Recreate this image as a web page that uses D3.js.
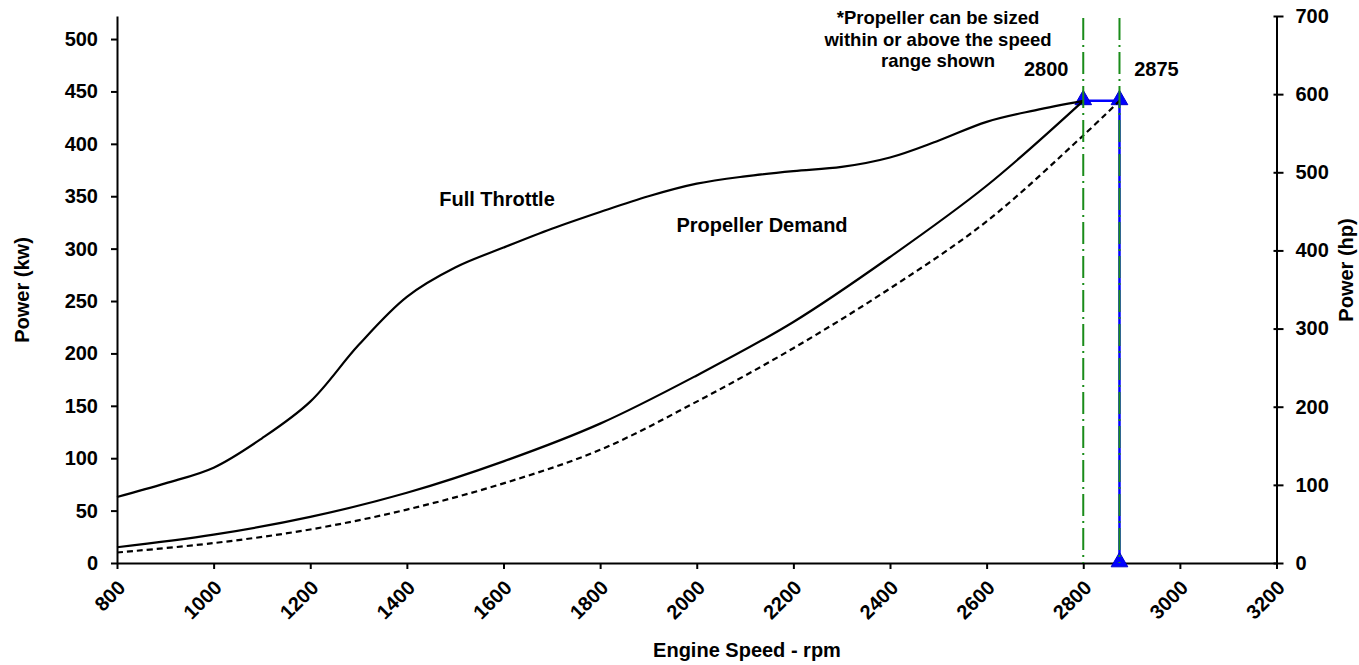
<!doctype html>
<html>

<head>
    <style>
        body { margin: 0; background: #fff; }
        text { font-family: "Liberation Sans", Arial, sans-serif; font-weight: bold; fill: #000; }
        .axis path, .axis line { stroke: #000; stroke-width: 2px; }
        .axis text { font-size: 20px; font-family: "Liberation Sans", Arial, sans-serif; font-weight: bold; }
    </style>
    <script src="https://d3js.org/d3.v7.min.js"></script>
</head>

<body>
    <svg width="1359" height="665"></svg>
    <script>
        // engine speed ticks and power ticks
        var rpmTicks = [800, 1000, 1200, 1400, 1600, 1800, 2000, 2200, 2400, 2600, 2800, 3000, 3200]
        var kwTicks = [0, 50, 100, 150, 200, 250, 300, 350, 400, 450, 500]
        var hpTicks = [0, 100, 200, 300, 400, 500, 600, 700]

        // full throttle curve (kW)
        var throttleRpm = [800, 900, 1000, 1100, 1200, 1300, 1400, 1500, 1600, 1700, 1800, 1900, 2000, 2100, 2200, 2300, 2400, 2500, 2600, 2700, 2800]
        var throttleKw = [63, 76, 91, 119, 154, 208, 254, 282, 301, 319, 335, 350, 362, 369, 374, 378, 387, 403, 421, 432, 441]

        // propeller demand curve (kW)
        var propRpm = [800, 1000, 1200, 1400, 1600, 1800, 2000, 2200, 2400, 2600, 2800]
        var propKw = [15, 27, 44, 67, 97, 133, 179, 230, 292, 360, 441]

        // dashed propeller curve (kW)
        var propHighRpm = [800, 1000, 1200, 1400, 1600, 1800, 2000, 2200, 2400, 2600, 2800, 2875]
        var propHighKw = [10, 19, 32, 51, 76, 108, 154, 205, 262, 326, 408, 441]

        // rated speed range
        var ratedRpm = [2800, 2875]
        var ratedKw = 441
        var markerRpm = [2800, 2875, 2875]
        var markerKw = [441, 441, 0]

        var svg = d3.select("svg"),
            margin = { top: 16, right: 82.5, bottom: 102, left: 117 },
            width = +svg.attr("width") - margin.left - margin.right,
            height = +svg.attr("height") - margin.top - margin.bottom

        var x = d3.scaleLinear().domain([800, 3200]).range([0, width]),
            yHp = d3.scaleLinear().domain([0, 700]).range([height, 0]),
            y = d3.scaleLinear().domain([0, 700 * 0.7457]).range([height, 0]);

        var g = svg.append("g")
            .attr("transform", "translate(" + margin.left + "," + margin.top + ")");

        // x axis
        var xAxis = g.append("g")
            .attr("class", "axis")
            .attr("transform", "translate(0," + height + ")")
            .call(d3.axisBottom(x).tickValues(rpmTicks).tickSize(6).tickSizeOuter(0).tickFormat(d3.format("d")));
        xAxis.selectAll("text")
            .attr("text-anchor", "end")
            .attr("dy", null)
            .attr("y", null)
            .attr("transform", "translate(9,26) rotate(-45)");

        // left axis (kW)
        var yAxis = g.append("g")
            .attr("class", "axis")
            .call(d3.axisLeft(y).tickValues(kwTicks).tickSize(6).tickSizeOuter(0).tickPadding(13));

        // right axis (hp)
        var hpAxis = g.append("g")
            .attr("class", "axis")
            .attr("transform", "translate(" + width + ",0)")
            .call(d3.axisRight(yHp).tickValues(hpTicks).tickSize(7).tickSizeOuter(0).tickPadding(12));
        hpAxis.selectAll(".tick line").attr("x1", -3);

        var line = d3.line()
            .x(function (d) { return x(d[0]); })
            .y(function (d) { return y(d[1]); })
            .curve(d3.curveCatmullRom.alpha(0.5));

        // blue rated range lines
        g.append("path")
            .attr("d", d3.line()([[x(ratedRpm[0]), y(ratedKw)], [x(ratedRpm[1]), y(ratedKw)], [x(ratedRpm[1]), y(0)]]))
            .attr("fill", "none")
            .attr("stroke", "#0000ff")
            .attr("stroke-width", 2.5);

        // markers
        g.selectAll(".marker")
            .data(markerRpm)
            .enter().append("path")
            .attr("class", "marker")
            .attr("transform", function (d, i) { return "translate(" + x(d) + "," + (y(markerKw[i]) - 1) + ")"; })
            .attr("d", d3.symbol().type(d3.symbolTriangle).size(120))
            .attr("fill", "#0000ff")
            .attr("stroke", "#0000cc")
            .attr("stroke-width", 1);

        g.append("path")
            .datum(d3.zip(throttleRpm, throttleKw))
            .attr("d", line)
            .attr("fill", "none")
            .attr("stroke", "#000")
            .attr("stroke-width", 2.2);

        g.append("path")
            .datum(d3.zip(propRpm, propKw))
            .attr("d", line)
            .attr("fill", "none")
            .attr("stroke", "#000")
            .attr("stroke-width", 2.2);

        g.append("path")
            .datum(d3.zip(propHighRpm, propHighKw))
            .attr("d", line)
            .attr("fill", "none")
            .attr("stroke", "#000")
            .attr("stroke-width", 2.2)
            .attr("stroke-dasharray", "6,4");

        // green dash-dot speed lines
        g.selectAll(".speed")
            .data(ratedRpm)
            .enter().append("line")
            .attr("class", "speed")
            .attr("x1", function (d) { return x(d); })
            .attr("x2", function (d) { return x(d); })
            .attr("y1", 2)
            .attr("y2", height)
            .attr("stroke", "#1a8c1a")
            .attr("stroke-width", 2)
            .attr("stroke-dasharray", "22,5,2,5");

        // annotations
        g.append("text")
            .attr("x", 497 - margin.left)
            .attr("y", 206 - margin.top)
            .attr("text-anchor", "middle")
            .style("font-size", "20px")
            .text("Full Throttle");

        g.append("text")
            .attr("x", 762 - margin.left)
            .attr("y", 232 - margin.top)
            .attr("text-anchor", "middle")
            .style("font-size", "20px")
            .text("Propeller Demand");

        var note = ["*Propeller can be sized", "within or above the speed", "range shown"];
        g.selectAll(".note")
            .data(note)
            .enter().append("text")
            .attr("class", "note")
            .attr("x", 938 - margin.left)
            .attr("y", function (d, i) { return 24 - margin.top + i * 21.5; })
            .attr("text-anchor", "middle")
            .style("font-size", "18.5px")
            .text(function (d) { return d; });

        g.selectAll(".rated")
            .data(ratedRpm)
            .enter().append("text")
            .attr("class", "rated")
            .attr("x", function (d, i) { return i === 0 ? x(d) - 37 : x(d) + 37; })
            .attr("y", 76 - margin.top)
            .attr("text-anchor", "middle")
            .style("font-size", "20px")
            .text(function (d) { return d; });

        // axis titles
        svg.append("text")
            .attr("transform", "translate(29,290) rotate(-90)")
            .attr("text-anchor", "middle")
            .style("font-size", "20px")
            .text("Power (kw)");

        svg.append("text")
            .attr("transform", "translate(1353,270) rotate(-90)")
            .attr("text-anchor", "middle")
            .style("font-size", "20px")
            .text("Power (hp)");

        svg.append("text")
            .attr("x", 747)
            .attr("y", 657)
            .attr("text-anchor", "middle")
            .style("font-size", "20px")
            .text("Engine Speed - rpm");
    </script>
</body>

</html>
